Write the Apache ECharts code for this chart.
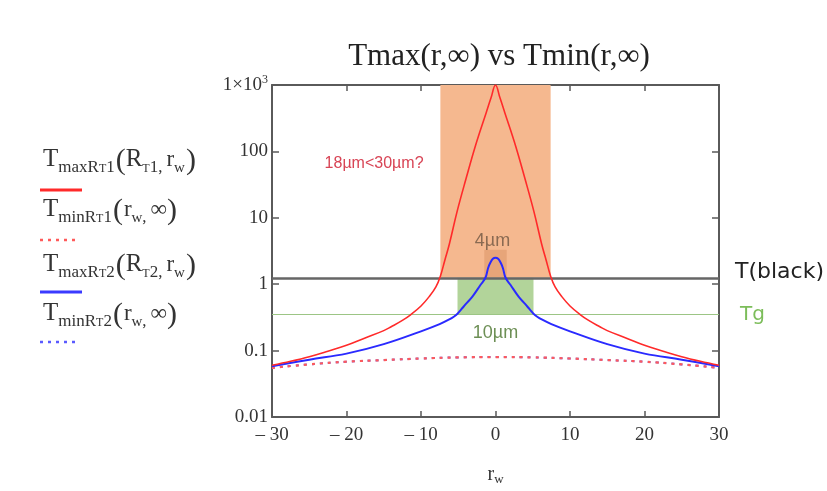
<!DOCTYPE html>
<html>
<head>
<meta charset="utf-8">
<script src="https://cdn.jsdelivr.net/npm/echarts@6/dist/echarts.min.js"></script>
<style>
html,body{margin:0;padding:0;background:#fff;}
#chart{width:827px;height:491px;}
</style>
</head>
<body>
<div id="chart"></div>
<script>
// ---- data ----
var xTickLabels = ['\u2013 30', '\u2013 20', '\u2013 10', '0', '10', '20', '30'];
var yTickLabels = ['0.01', '0.1', '1', '10', '100', '1\u00d710{sup|3}'];

var redMaxX = [-30, -27.5, -25, -22.5, -20, -17.5, -15, -14, -12.5, -11.4, -10, -8.9, -8, -7.4, -6.8, -6.2, -5.15, -3.95, -2.7, -1.26, -0.6, 0,
               0.6, 1.26, 2.7, 3.95, 5.15, 6.2, 6.8, 7.4, 8, 8.9, 10, 11.4, 12.5, 14, 15, 17.5, 20, 22.5, 25, 27.5, 30];
var redMaxY = [0.06, 0.069, 0.081, 0.098, 0.12, 0.155, 0.2, 0.229, 0.285, 0.346, 0.47, 0.65, 0.91, 1.32, 2.3, 4.0, 12.5, 39, 121, 380, 640, 1000,
               640, 380, 121, 39, 12.5, 4.0, 2.3, 1.32, 0.91, 0.65, 0.47, 0.346, 0.285, 0.229, 0.2, 0.155, 0.12, 0.098, 0.081, 0.069, 0.06];

var blueMaxX = [-30, -25, -20, -15, -10, -7.5, -6.2, -5.6, -5.1, -4.6, -4, -3.1, -2, -1.35, -1.0, -0.7, -0.35, 0, 0.35, 0.7, 1.0, 1.35, 2, 3.1, 4, 4.6, 5.1, 5.6, 6.2, 7.5, 10, 15, 20, 25, 30];
var blueMaxY = [0.058, 0.073, 0.09, 0.125, 0.195, 0.25, 0.295, 0.324, 0.36, 0.417, 0.5, 0.65, 0.98, 1.25, 1.74, 2.1, 2.41, 2.5, 2.41, 2.1, 1.74, 1.25, 0.98, 0.65, 0.5, 0.417, 0.36, 0.324, 0.295, 0.25, 0.195, 0.125, 0.09, 0.073, 0.058];

var minX = [-30, -25, -20, -15, -10, -5, 0, 5, 10, 15, 20, 25, 30];
var redMinY = [0.055, 0.062, 0.068, 0.072, 0.076, 0.079, 0.080, 0.079, 0.076, 0.072, 0.068, 0.062, 0.055];
var blueMinY = [0.055, 0.062, 0.068, 0.072, 0.076, 0.079, 0.080, 0.079, 0.076, 0.072, 0.068, 0.062, 0.055];

var tBlack = 1.25;
var tG = 0.346;
var orangeBand = [-7.4, 7.4];     // x range, 18µm band
var greenBand = [-5.1, 5.1];      // x range, 10µm band
var smallBand = [-1.5, 1.5];      // x range, 4µm band
var smallBandTop = 3.3;
var yMin = 0.01, yMax = 1000;

function pairs(xs, ys) { return xs.map(function (x, i) { return [x, ys[i]]; }); }

var chart = echarts.init(document.getElementById('chart'));
var serifName = 'Liberation Serif';
var serif = "'Liberation Serif', 'DejaVu Serif', serif";
var sans = "'DejaVu Sans', 'Liberation Sans', sans-serif";

// ---- legend (left), laid out token by token ----
var measureCtx = document.createElement('canvas').getContext('2d');
function tw(text, size) { measureCtx.font = size + 'px "' + serifName + '"'; return measureCtx.measureText(text).width; }
var B = 25, S = 17, ST = 12, P = 30;   // big, subscript, small T, parens
function entryTokens(kind, n) {
  var t = [['T', B, 0, 0], [kind + 'R', S, 5, 0], ['T', ST, 5, 0], [n, S, 5, 1]];
  if (kind === 'max') {
    t = t.concat([['(', P, 3, 0], ['R', B, 0, 0], ['T', ST, 5, 0], [n, S, 5, 0], [',', S, 5, 4], ['r', B - 2, 0, 0], ['w', S - 2, 5, 1], [')', P, 3, 0]]);
  } else {
    t = t.concat([['(', P, 3, 1], ['r', B - 2, 0, 0], ['w', S - 2, 5, 0], [',', S, 5, 4], ['\u221e', B - 2, 0, 0], [')', P, 3, 0]]);
  }
  return t;
}
var legendEntries = [
  { kind: 'max', n: '1', base: 168, color: '#ff2a2a', dash: null, ly: 190, x2: 82 },
  { kind: 'min', n: '1', base: 218, color: '#ff5a5a', dash: [3, 5], ly: 240, x2: 76 },
  { kind: 'max', n: '2', base: 273, color: '#3a3aff', dash: null, ly: 292, x2: 82 },
  { kind: 'min', n: '2', base: 322, color: '#5a5aff', dash: [3, 5], ly: 342, x2: 76 }
];
var graphics = [];
legendEntries.forEach(function (e) {
  var x = 43;
  entryTokens(e.kind, e.n).forEach(function (tk) {
    var size = tk[1];
    var baseline = e.base + tk[2];
    graphics.push({ type: 'text', x: x, y: baseline - 0.3375 * size, silent: true,
      style: { text: tk[0], fontFamily: serif, fontSize: size, fill: '#333', verticalAlign: 'middle', align: 'left' } });
    x += tw(tk[0], size) + tk[3];
  });
  graphics.push({ type: 'line', silent: true, shape: { x1: 40, y1: e.ly, x2: e.x2, y2: e.ly },
    style: { stroke: e.color, lineWidth: e.dash ? 2.5 : 3, lineDash: e.dash || null } });
});

var axisLineStyle = { color: '#5a5a5a', width: 2 };
var tickStyle = { color: '#5a5a5a', width: 1.5 };

var option = {
  backgroundColor: '#ffffff',
  animation: false,
  title: {
    text: 'Tmax(r,\u221e) vs Tmin(r,\u221e)',
    left: 494, top: 36, textAlign: 'center',
    textStyle: { fontFamily: serif, fontSize: 31, fontWeight: 'normal', color: '#222' }
  },
  grid: { left: 272, right: 108, top: 85, bottom: 69 },
  xAxis: [{
    type: 'value', min: -30, max: 30, interval: 10, position: 'bottom',
    axisLine: { onZero: false, lineStyle: axisLineStyle }, splitLine: { show: false },
    axisTick: { inside: true, length: 6, lineStyle: tickStyle },
    axisLabel: { margin: 9, fontFamily: serif, fontSize: 19, color: '#333',
      formatter: function (v) { return xTickLabels[Math.round((v + 30) / 10)]; } },
    name: 'r{sub|w}', nameLocation: 'middle', nameGap: 46,
    nameTextStyle: { fontFamily: serif, fontSize: 20, color: '#333',
      rich: { sub: { fontFamily: serif, fontSize: 13, color: '#333', padding: [10, 0, 0, 0] } } }
  }, {
    type: 'value', min: -30, max: 30, interval: 10, position: 'top',
    axisLine: { onZero: false, lineStyle: axisLineStyle }, splitLine: { show: false },
    axisTick: { inside: true, length: 6, lineStyle: tickStyle }, axisLabel: { show: false }
  }],
  yAxis: [{
    type: 'log', logBase: 10, min: yMin, max: yMax, position: 'left',
    axisLine: { show: true, onZero: false, lineStyle: axisLineStyle }, splitLine: { show: false },
    axisTick: { show: true, inside: true, length: 7, lineStyle: tickStyle },
    minorTick: { show: false },
    axisLabel: { margin: 4, fontFamily: serif, fontSize: 19, color: '#333',
      formatter: function (v) { return yTickLabels[Math.round(Math.log10(v)) + 2]; },
      rich: { sup: { fontFamily: serif, fontSize: 12, color: '#333', padding: [0, 0, 10, 0] } } }
  }, {
    type: 'log', logBase: 10, min: yMin, max: yMax, position: 'right',
    axisLine: { show: true, onZero: false, lineStyle: axisLineStyle }, splitLine: { show: false },
    axisTick: { show: true, inside: true, length: 7, lineStyle: tickStyle },
    axisLabel: { show: false }
  }],
  series: [
    {
      name: 'bands', type: 'line', data: [], z: 1,
      markArea: {
        silent: true,
        label: { show: false },
        data: [
          [{ coord: [orangeBand[0], tBlack], itemStyle: { color: '#f5b88f' } }, { coord: [orangeBand[1], yMax] }],
          [{ coord: [smallBand[0], tBlack], itemStyle: { color: 'rgba(205,130,80,0.35)' } }, { coord: [smallBand[1], smallBandTop] }],
          [{ coord: [greenBand[0], tG], itemStyle: { color: '#b2d49a' } }, { coord: [greenBand[1], tBlack] }]
        ]
      },
      markLine: {
        silent: true, symbol: 'none',
        data: [
          { yAxis: tBlack, lineStyle: { color: '#666', width: 2.5, type: 'solid' },
            label: { show: true, position: 'end', distance: 16, formatter: 'T(black)', offset: [0, -5],
              fontFamily: sans, fontSize: 22, color: '#222' } },
          { yAxis: tG, lineStyle: { color: '#9cc585', width: 1, type: 'solid' },
            label: { show: true, position: 'end', distance: 21, formatter: 'Tg',
              fontFamily: sans, fontSize: 20, color: '#7cbd5a' } }
        ]
      },
      markPoint: {
        silent: true, symbol: 'circle', symbolSize: 0,
        data: [
          { coord: [-16.3, 65], label: { show: true, formatter: '18\u00b5m<30\u00b5m?', color: '#d84455', fontFamily: "'Liberation Sans', sans-serif", fontSize: 16 } },
          { coord: [-0.4, 4.4], label: { show: true, formatter: '4\u00b5m', color: '#8a6a52', fontFamily: "'Liberation Sans', sans-serif", fontSize: 18 } },
          { coord: [0, 0.185], label: { show: true, formatter: '10\u00b5m', color: '#6d8f55', fontFamily: "'Liberation Sans', sans-serif", fontSize: 18 } }
        ]
      }
    },
    { name: 'TminRT2', type: 'line', data: pairs(minX, blueMinY), showSymbol: false, smooth: true, z: 3,
      lineStyle: { color: '#5a5aff', width: 2, type: [3, 5] } },
    { name: 'TminRT1', type: 'line', data: pairs(minX, redMinY), showSymbol: false, smooth: true, z: 4,
      lineStyle: { color: '#ff5a5a', width: 2.2, type: [3, 5] } },
    { name: 'TmaxRT2', type: 'line', data: pairs(blueMaxX, blueMaxY), showSymbol: false, smooth: 0.4, z: 5,
      lineStyle: { color: '#2a2aff', width: 2 } },
    { name: 'TmaxRT1', type: 'line', data: pairs(redMaxX, redMaxY), showSymbol: false, smooth: 0.4, z: 6,
      lineStyle: { color: '#ff2a2a', width: 1.6 } }
  ],
  graphic: graphics
};
chart.setOption(option);
</script>
</body>
</html>
